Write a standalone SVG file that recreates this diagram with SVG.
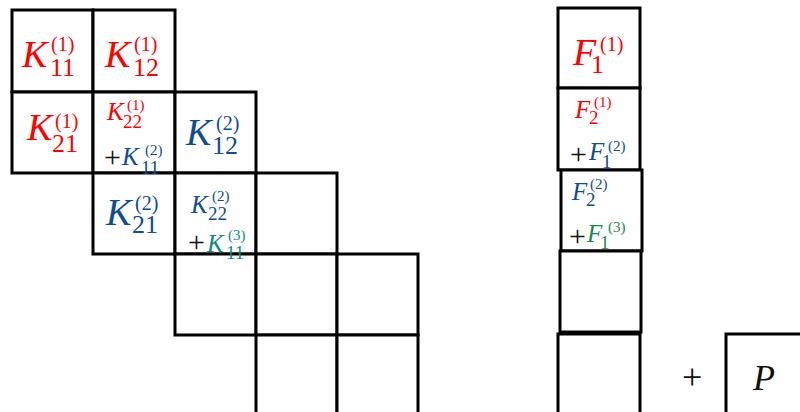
<svg xmlns="http://www.w3.org/2000/svg" width="800" height="412" viewBox="0 0 800 412">
<style>
.cell{fill:#fff;stroke:#000;stroke-width:3}
.t{font-family:"Liberation Serif","Times New Roman",serif}
.i{font-style:italic}
.n{font-style:normal}
.r{fill:#ff0000}
.b{fill:#0f4d8c}
.g{fill:#0e8a7e}
.gr{fill:#1c8a4a}
.k{fill:#111}
.L{font-size:38px}
.LS{font-size:26px}
.LP{font-size:20px}
.S{font-size:25px}
.SS{font-size:19px}
.SP{font-size:15px}
.pl{font-size:30px}
</style>
<rect width="800" height="412" fill="#fff"/>
<g id="grid">
<rect class="cell" x="12" y="10" width="81" height="82"/>
<rect class="cell" x="93" y="10" width="82" height="82"/>
<rect class="cell" x="12" y="92" width="81" height="81"/>
<rect class="cell" x="93" y="92" width="82" height="81"/>
<rect class="cell" x="175" y="92" width="81" height="81"/>
<rect class="cell" x="93" y="173" width="82" height="81"/>
<rect class="cell" x="175" y="173" width="81" height="81"/>
<rect class="cell" x="256" y="173" width="81" height="81"/>
<rect class="cell" x="175" y="254" width="81" height="81"/>
<rect class="cell" x="256" y="254" width="81" height="81"/>
<rect class="cell" x="337" y="254" width="81" height="81"/>
<rect class="cell" x="256" y="335" width="81" height="85"/>
<rect class="cell" x="337" y="335" width="81" height="85"/>
</g>
<g id="K11_1" class="t r">
<text class="i L" x="22" y="67">K<tspan class="n LS" x="50" y="76">11</tspan><tspan class="n LP" x="51" y="51">(1)</tspan></text>
</g>
<g id="K12_1" class="t r">
<text class="i L" x="105" y="67">K<tspan class="n LS" x="133" y="76">12</tspan><tspan class="n LP" x="134" y="51">(1)</tspan></text>
</g>
<g id="K21_1" class="t r">
<text class="i L" x="27" y="140">K<tspan class="n LS" x="52" y="152">21</tspan><tspan class="n LP" x="55" y="128">(1)</tspan></text>
</g>
<g id="K22" class="t">
<text class="i S r" x="107" y="120">K<tspan class="n SS" x="123" y="128">22</tspan><tspan class="n SP" x="127" y="110">(1)</tspan></text>
<text class="pl k" x="104" y="167">+<tspan class="i S b" x="122" y="165">K</tspan><tspan class="SS b" x="141" y="174">11</tspan><tspan class="SP b" x="145" y="155">(2)</tspan></text>
</g>
<g id="K12_2" class="t b">
<text class="i L" x="186" y="145">K<tspan class="n LS" x="212" y="154">12</tspan><tspan class="n LP" x="216" y="130">(2)</tspan></text>
</g>
<g id="K21_2" class="t b">
<text class="i L" x="106" y="225">K<tspan class="n LS" x="132" y="233">21</tspan><tspan class="n LP" x="135" y="210">(2)</tspan></text>
</g>
<g id="K22_2" class="t">
<text class="i S b" x="191" y="213">K<tspan class="n SS" x="208" y="220">22</tspan><tspan class="n SP" x="212" y="201">(2)</tspan></text>
<text class="pl k" x="188" y="252">+<tspan class="i S g" x="207" y="252">K</tspan><tspan class="SS g" x="226" y="259">11</tspan><tspan class="SP g" x="228" y="240">(3)</tspan></text>
</g>
<g id="Fcol">
<rect class="cell" x="558" y="8" width="82" height="80"/>
<rect class="cell" x="558" y="88" width="82" height="82"/>
<rect class="cell" x="561" y="170" width="81" height="81"/>
<rect class="cell" x="560" y="251" width="81" height="81"/>
<rect class="cell" x="558" y="334" width="82" height="86"/>
</g>
<g id="F1_1" class="t r">
<text class="i L" x="573" y="65">F<tspan class="n LS" x="591" y="73">1</tspan><tspan class="n LP" x="600" y="51">(1)</tspan></text>
</g>
<g id="F2" class="t">
<text class="i S r" x="575" y="118">F<tspan class="n SS" x="589" y="124">2</tspan><tspan class="n SP" x="594" y="107">(1)</tspan></text>
<text class="pl k" x="570" y="164">+<tspan class="i S b" x="589" y="160">F</tspan><tspan class="SS b" x="602" y="168">1</tspan><tspan class="SP b" x="608" y="151">(2)</tspan></text>
</g>
<g id="F2_2" class="t">
<text class="i S b" x="572" y="200">F<tspan class="n SS" x="586" y="206">2</tspan><tspan class="n SP" x="590" y="189">(2)</tspan></text>
<text class="pl k" x="569" y="246">+<tspan class="i S gr" x="587" y="242">F</tspan><tspan class="SS gr" x="600" y="249">1</tspan><tspan class="SP gr" x="608" y="232">(3)</tspan></text>
</g>
<g id="plus" class="t">
<text class="k" style="font-size:36px" x="682" y="389">+</text>
</g>
<g id="P">
<rect class="cell" x="726" y="334" width="90" height="86"/>
<text class="t i k" style="font-size:36px" x="753" y="390">P</text>
</g>
</svg>
